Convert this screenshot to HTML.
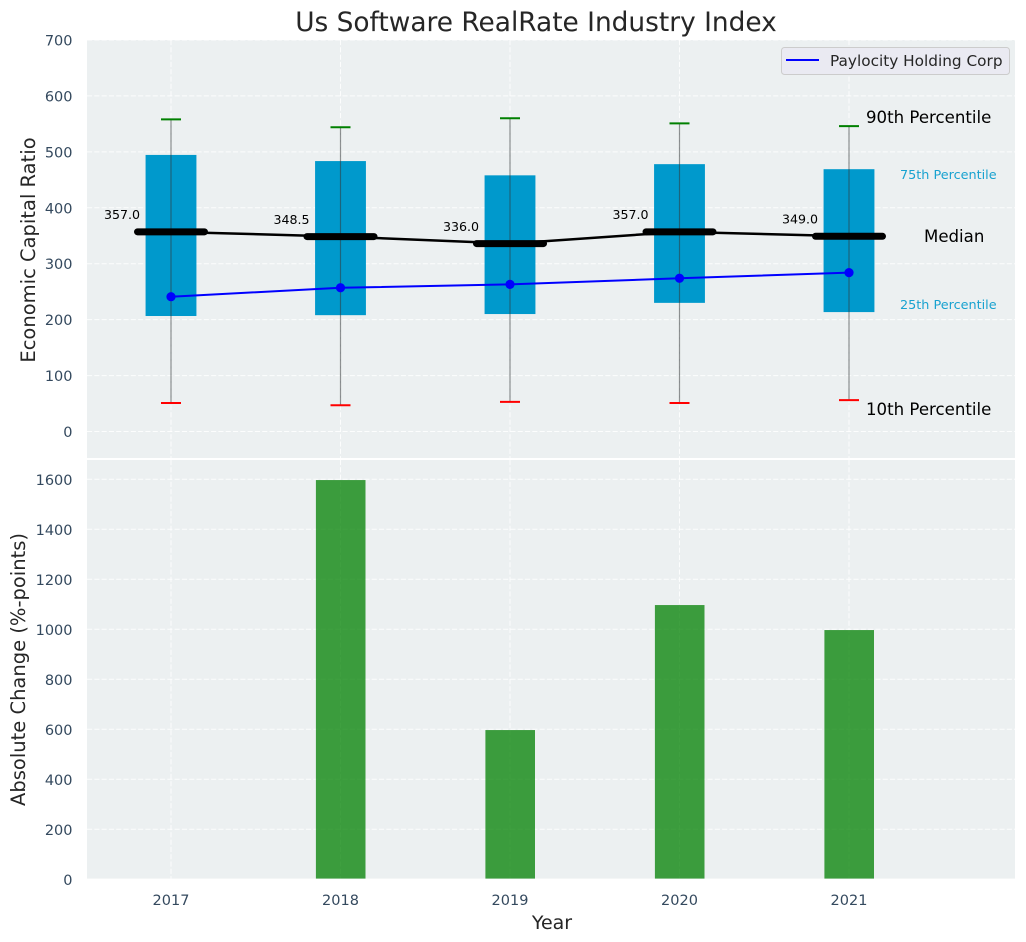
<!DOCTYPE html>
<html lang="en">
<head>
<meta charset="utf-8">
<title>Us Software RealRate Industry Index</title>
<style>
html,body{margin:0;padding:0;background:#fff;width:1026px;height:942px;overflow:hidden}
svg{display:block}
text{font-family:"DejaVu Sans","Liberation Sans",sans-serif}
</style>
</head>
<body>
<svg id="chart" xmlns="http://www.w3.org/2000/svg" width="1026" height="942" viewBox="0 0 1026 942">
  <rect x="87" y="40" width="928" height="418" fill="#ecf0f1"/>
  <rect x="87" y="460" width="928" height="418.6" fill="#ecf0f1"/>
  <g id="grid"></g>
  <g id="marks"></g>
  <g id="labels"></g>
  <text x="536" y="31" text-anchor="middle" font-size="26.4" fill="#262626">Us Software RealRate Industry Index</text>
  <text transform="translate(35,250) rotate(-90)" text-anchor="middle" font-size="19.5" fill="#262626">Economic Capital Ratio</text>
  <text transform="translate(25,669.5) rotate(-90)" text-anchor="middle" font-size="19.5" fill="#262626">Absolute Change (%-points)</text>
  <text x="552" y="929" text-anchor="middle" font-size="19" fill="#262626">Year</text>
  <text x="866" y="123" font-size="16.6" fill="#000">90th Percentile</text>
  <text x="900" y="179" font-size="12.8" fill="#0099cc" fill-opacity="0.9">75th Percentile</text>
  <text x="924" y="242" font-size="16.6" fill="#000">Median</text>
  <text x="900" y="309" font-size="12.8" fill="#0099cc" fill-opacity="0.9">25th Percentile</text>
  <text x="866" y="415" font-size="16.6" fill="#000">10th Percentile</text>
  <g>
    <rect x="781.5" y="47.5" width="228" height="27" rx="3" fill="#eaeaf2" stroke="#cccccc" stroke-width="1"/>
    <line x1="786" y1="60" x2="819" y2="60" stroke="#0000ff" stroke-width="2"/>
    <text x="830" y="66" font-size="15.3" fill="#262626">Paylocity Holding Corp</text>
  </g>
</svg>
<script>
const years = [2017, 2018, 2019, 2020, 2021];
const p90 = [558, 544, 560, 551, 546];
const p75 = [494.5, 483.5, 458, 478, 469];
const medians = [357, 348.5, 336, 357, 349];
const medianLabels = ["357.0", "348.5", "336.0", "357.0", "349.0"];
const p25 = [206.5, 208, 210, 230, 213.5];
const p10 = [51, 47, 53, 51, 56];
const company = [241, 257, 263, 274, 284];
const changes = [0, 1597, 597, 1097, 997];
const topTicks = [0, 100, 200, 300, 400, 500, 600, 700];
const bottomTicks = [0, 200, 400, 600, 800, 1000, 1200, 1400, 1600];

const NS = "http://www.w3.org/2000/svg";
const gridG = document.getElementById("grid");
const marksG = document.getElementById("marks");
const labelsG = document.getElementById("labels");
const plotBottom = 878.6;
function xPos(v) { return 171 + (v - 2017) * 169.5; }
function xLen(v) { return v * 169.5; }
function yTop(v) { return 431.5 - v * 0.5593; }
function yBottom(v) { return 879.3 - v * 0.25; }
function mk(parent, tag, attrs, txt) {
  const el = document.createElementNS(NS, tag);
  for (const k in attrs) el.setAttribute(k, attrs[k]);
  if (txt !== undefined) el.textContent = txt;
  parent.appendChild(el);
  return el;
}
function seg(parent, x1, y1, x2, y2, stroke, width, extra) {
  return mk(parent, "line", Object.assign({x1: x1, y1: y1, x2: x2, y2: y2, stroke: stroke, "stroke-width": width}, extra || {}));
}
const dash = {"stroke-dasharray": "5.1 2.2", "stroke-opacity": 0.85};
let el;

topTicks.forEach(function (t) {
  el = seg(gridG, 87, yTop(t), 1015, yTop(t), "#ffffff", 1, dash);
  
  
  el = mk(labelsG, "text", {x: 72.5, y: yTop(t) + 5.5, "text-anchor": "end", "font-size": 14.5, fill: "#34495e"}, String(t));
  
  
});
bottomTicks.forEach(function (t) {
  if (t > 0) {
    el = seg(gridG, 87, yBottom(t), 1015, yBottom(t), "#ffffff", 1, dash);
    
    
  }
  el = mk(labelsG, "text", {x: 72.5, y: yBottom(t) + 5.5, "text-anchor": "end", "font-size": 14.5, fill: "#34495e"}, String(t));
  
  
});
years.forEach(function (yr) {
  el = seg(gridG, xPos(yr), 40, xPos(yr), 458, "#ffffff", 1, dash);
  
  
  el = seg(gridG, xPos(yr), 460, xPos(yr), plotBottom, "#ffffff", 1, dash);
  
  
  el = mk(labelsG, "text", {x: xPos(yr), y: 905, "text-anchor": "middle", "font-size": 14.5, fill: "#34495e"}, String(yr));
  
  
});

years.forEach(function (yr, i) {
  el = mk(marksG, "rect", {x: xPos(yr) - xLen(0.15), y: yTop(p75[i]), width: xLen(0.3), height: yTop(p25[i]) - yTop(p75[i]), fill: "#0099cc"});
  
  
  el = seg(marksG, xPos(yr), yTop(p90[i]), xPos(yr), yTop(p10[i]), "#33383b", 1.2, {"stroke-opacity": 0.55});
  
  
  el = seg(marksG, xPos(yr) - 10, yTop(p90[i]), xPos(yr) + 10, yTop(p90[i]), "#008000", 2);
  
  
  el = seg(marksG, xPos(yr) - 10, yTop(p10[i]), xPos(yr) + 10, yTop(p10[i]), "#ff0000", 2);
  
  
  el = mk(marksG, "rect", {x: xPos(yr) - 24.6, y: yBottom(changes[i]), width: 49.6, height: Math.max(0, plotBottom - yBottom(changes[i])), fill: "#008000", "fill-opacity": 0.75});
  
  
});

el = mk(marksG, "polyline", {points: years.map(function (yr, i) { return xPos(yr) + "," + yTop(medians[i]); }).join(" "), fill: "none", stroke: "#000000", "stroke-width": 2.5});


el = mk(marksG, "polyline", {points: years.map(function (yr, i) { return xPos(yr) + "," + yTop(company[i]); }).join(" "), fill: "none", stroke: "#0000ff", "stroke-width": 2});



years.forEach(function (yr, i) {
  el = seg(marksG, xPos(yr) - 33.5, yTop(medians[i]), xPos(yr) + 33.5, yTop(medians[i]), "#000000", 7, {"stroke-linecap": "round"});
  
  
  el = mk(marksG, "circle", {cx: xPos(yr), cy: yTop(company[i]), r: 4.6, fill: "#0000ff"});
  
  
  el = mk(marksG, "text", {x: xPos(yr) - 49, y: yTop(medians[i]) - 12.7, "text-anchor": "middle", "font-size": 12.6, fill: "#000000"}, medianLabels[i]);
  
  
});
</script>
</body>
</html>
